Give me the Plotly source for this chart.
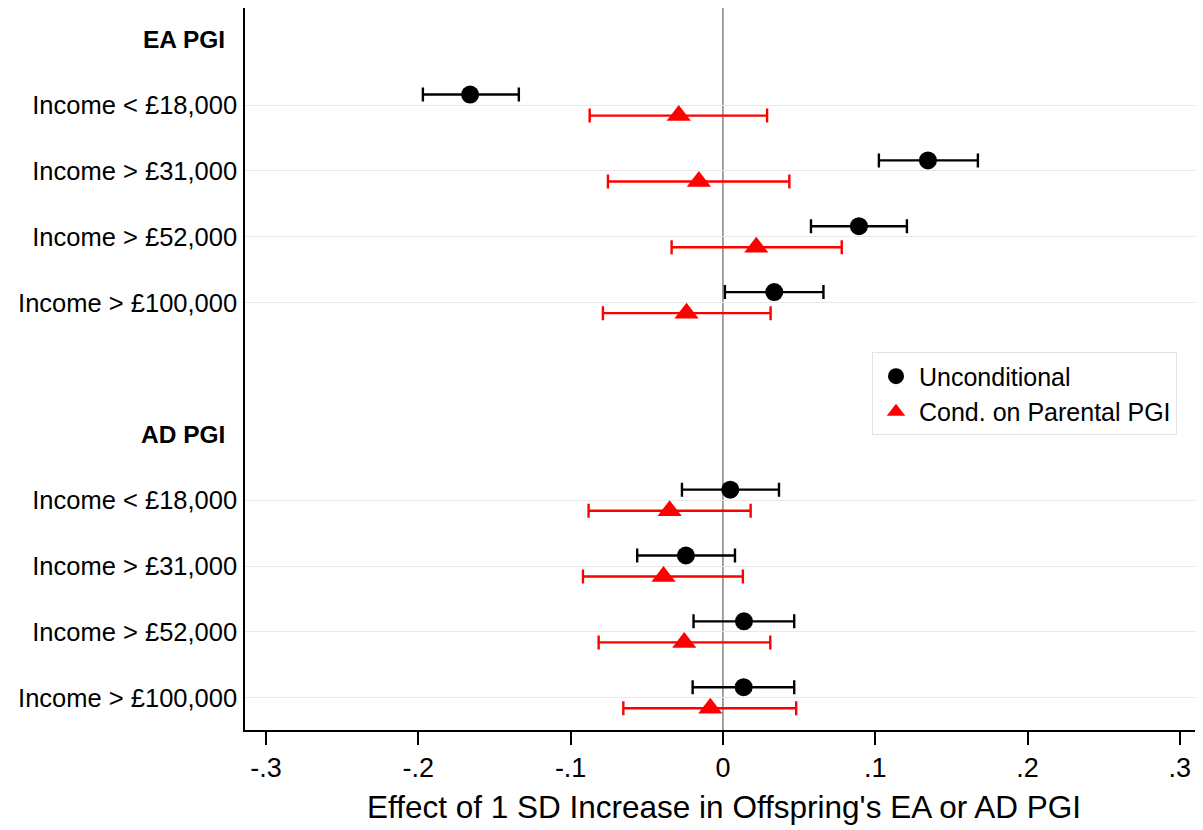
import plotly.graph_objects as go

categories = ["Income < £18,000", "Income > £31,000", "Income > £52,000", "Income > £100,000"]
groups = ["EA PGI", "AD PGI"]

# Unconditional estimates (EA then AD)
unc_est = [-0.166, 0.1346, 0.0893, 0.0337, 0.0048, -0.0243, 0.0138, 0.0136]
unc_lo = [-0.197, 0.1024, 0.0578, 0.0013, -0.0269, -0.0563, -0.0193, -0.0199]
unc_hi = [-0.134, 0.1674, 0.1208, 0.066, 0.0368, 0.0079, 0.0468, 0.0468]

# Conditional on parental PGI
cond_est = [-0.029, -0.0158, 0.0219, -0.0239, -0.035, -0.039, -0.0254, -0.0083]
cond_lo = [-0.0875, -0.0755, -0.0337, -0.0788, -0.0882, -0.0919, -0.0816, -0.0654]
cond_hi = [0.029, 0.0436, 0.078, 0.0313, 0.0182, 0.0131, 0.0311, 0.0481]

xticks = [-0.3, -0.2, -0.1, 0, 0.1, 0.2, 0.3]
xticktext = ["-.3", "-.2", "-.1", "0", ".1", ".2", ".3"]

# row positions: header at 0 and 6, rows 1-4 and 7-10
header_pos = [0, 6]
row_pos = [1, 2, 3, 4, 7, 8, 9, 10]
row_labels = categories + categories
off = 0.16

fig = go.Figure()

fig.add_trace(go.Scatter(
    x=unc_est, y=[p - off for p in row_pos], mode="markers", name="Unconditional",
    marker=dict(symbol="circle", size=18, color="black"),
    error_x=dict(type="data", symmetric=False,
                 array=[h - e for h, e in zip(unc_hi, unc_est)],
                 arrayminus=[e - l for e, l in zip(unc_est, unc_lo)],
                 color="black", thickness=2.4, width=7),
))
fig.add_trace(go.Scatter(
    x=cond_est, y=[p + off for p in row_pos], mode="markers", name="Cond. on Parental PGI",
    marker=dict(symbol="triangle-up", size=21, color="#ff0000"),
    error_x=dict(type="data", symmetric=False,
                 array=[h - e for h, e in zip(cond_hi, cond_est)],
                 arrayminus=[e - l for e, l in zip(cond_est, cond_lo)],
                 color="#ff0000", thickness=2.4, width=7),
))

fig.add_shape(type="line", xref="x", yref="paper", x0=0, x1=0, y0=0, y1=1,
              line=dict(color="#8c8c8c", width=1.6), layer="below")

for g, p in zip(groups, header_pos):
    fig.add_annotation(x=0, xref="paper", y=p, yref="y", text="<b>" + g + "</b>",
                       showarrow=False, xanchor="right", yanchor="middle",
                       font=dict(size=24.5, color="black"), xshift=-18)

FONT = "Liberation Sans, Arial, Helvetica, sans-serif"

fig.update_layout(
    width=1195, height=822,
    margin=dict(l=237, r=0, t=0, b=100),
    paper_bgcolor="white", plot_bgcolor="white",
    font=dict(family=FONT, color="black"),
    showlegend=True,
    legend=dict(x=0.6545, y=0.523, xanchor="left", yanchor="top",
                bgcolor="white", bordercolor="#e3e3e3", borderwidth=1,
                font=dict(size=25, color="black"), itemwidth=36),
    xaxis=dict(range=[-0.3138, 0.3152], tickvals=xticks, ticktext=xticktext,
               ticks="outside", ticklen=13, tickwidth=1.5, tickcolor="black",
               showgrid=False, zeroline=False, showline=True, linecolor="black", linewidth=1.5,
               tickfont=dict(size=27, color="black"),
               title=dict(text="Effect of 1 SD Increase in Offspring's EA or AD PGI",
                          font=dict(size=31.5, color="black"), standoff=14)),
    yaxis=dict(range=[10.49, -0.474], tickvals=row_pos, ticktext=row_labels,
               ticks="", showgrid=True, gridcolor="#e8e8e8", gridwidth=1,
               zeroline=False, showline=True, linecolor="black", linewidth=1.5,
               tickfont=dict(size=25.5, color="black"), ticklabelstandoff=1),
)

fig.write_html("out.html")
